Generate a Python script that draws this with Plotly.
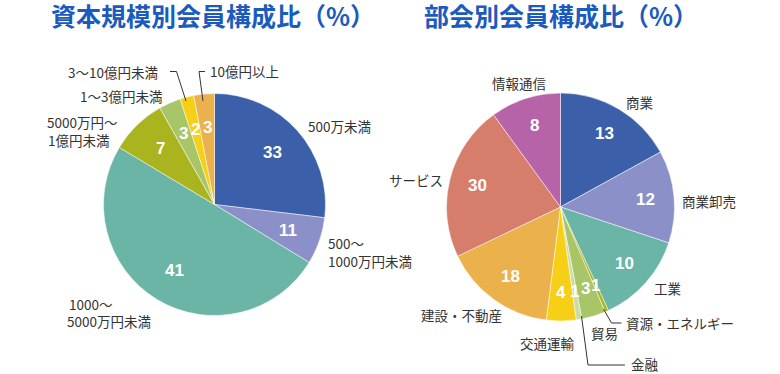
import math
import plotly.graph_objects as go

W, H = 780, 374

# ---- data: capital-size pie (slice shares as drawn, printed percentages) ----
cap_categories = ["500万未満", "500～1000万円未満", "1000～5000万円未満",
                  "5000万円～1億円未満", "1～3億円未満", "3～10億円未満", "10億円以上"]
cap_shares = [26.9, 6.85, 49.85, 8.2, 3.2, 2.0, 3.0]
cap_printed = ["33", "11", "41", "7", "3", "2", "3"]
cap_colors = ["#3b5fa9", "#8b91c8", "#6ab5a6", "#a9b41e", "#a8c568", "#f6cf17", "#ebb14e"]

# ---- data: section pie ----
sec_categories = ["商業", "商業卸売", "工業", "資源・エネルギー", "貿易", "金融",
                  "交通運輸", "建設・不動産", "サービス", "情報通信"]
sec_shares = [17.0, 13.1, 13.0, 0.5, 3.4, 0.8, 4.2, 15.9, 22.1, 10.0]
sec_printed = ["13", "12", "10", "1", "3", "1", "4", "18", "30", "8"]
sec_colors = ["#3b5fa9", "#8b91c8", "#6ab5a6", "#aab51a", "#a8c568", "#cbdca8",
              "#f6cf17", "#ebb24c", "#d77d6b", "#b763a7"]

titles = ["資本規模別会員構成比（%）", "部会別会員構成比（%）"]


def px(x):
    return x / W


def py(y):
    return 1 - y / H


def pie(values, names, colors, cx, cy, r):
    return go.Pie(
        values=values, labels=names,
        marker=dict(colors=colors, line=dict(color="rgba(255,255,255,0.7)", width=0.7)),
        sort=False, direction="clockwise", rotation=0, textinfo="none",
        domain=dict(x=[px(cx - r), px(cx + r)], y=[py(cy + r), py(cy - r)]),
        showlegend=False, hoverinfo="label+value",
    )


ann = []
num_font = dict(family="Arial, Liberation Sans", size=17, color="white", weight="bold")


def value_labels(values, printed, cx, cy, r, k=0.72):
    total = sum(values)
    cum = 0.0
    for v, t in zip(values, printed):
        mid = (cum + v / 2) / total * 2 * math.pi
        cum += v
        x = cx + k * r * math.sin(mid)
        y = cy - k * r * math.cos(mid)
        ann.append(dict(text=t, x=px(x), y=py(y), xref="paper", yref="paper",
                        xanchor="center", yanchor="middle", showarrow=False, font=num_font))


CAP = (214.5, 204.5, 111)
SEC = (560.5, 207, 114)

fig = go.Figure()
fig.add_trace(pie(cap_shares, cap_categories, cap_colors, *CAP))
fig.add_trace(pie(sec_shares, sec_categories, sec_colors, *SEC))
value_labels(cap_shares, cap_printed, *CAP, k=0.7)
value_labels(sec_shares, sec_printed, *SEC, k=0.75)

lab_font = dict(family="Noto Sans CJK JP", size=13.5, color="#333333")


def label(text, x, y, anchor="left"):
    ann.append(dict(text=text, x=px(x), y=py(y), xref="paper", yref="paper",
                    xanchor=anchor, yanchor="middle", showarrow=False, font=lab_font,
                    align="left", borderpad=0))


# left pie labels
label("500万未満", 307, 125.5)
label("500～", 327, 243)
label("1000万円未満", 327, 261)
label("1000～", 68, 303.5)
label("5000万円未満", 66, 321)
label("5000万円～", 46, 122.5)
label("1億円未満", 47, 140)
label("1～3億円未満", 79, 96)
label("3～10億円未満", 67, 72)
label("10億円以上", 209, 71)
# right pie labels
label("情報通信", 491, 83)
label("サービス", 388, 180)
label("建設・不動産", 420, 314.5)
label("商業", 625, 102)
label("商業卸売", 681, 201)
label("工業", 653, 288)
label("資源・エネルギー", 625, 323)
label("貿易", 590, 332.5)
label("金融", 630, 363.5)
label("交通運輸", 519, 343)

title_font = dict(family="Noto Sans CJK JP", size=25, color="#1a5bbd", weight="bold")
for t, cx in zip(titles, (213, 561)):
    ann.append(dict(text=t, x=px(cx), y=py(15), xref="paper", yref="paper",
                    xanchor="center", yanchor="middle", showarrow=False, font=title_font,
                    borderpad=0))


def leader(points):
    d = "M " + " L ".join(f"{px(x):.5f},{py(y):.5f}" for x, y in points)
    return dict(type="path", path=d, xref="paper", yref="paper",
                line=dict(color="#333333", width=1))


shapes = [
    leader([(170, 71.5), (176.5, 71.5), (186, 101)]),
    leader([(205, 71.5), (199, 71.5), (203, 101)]),
    leader([(603.5, 309), (611.5, 323), (621.5, 323)]),
    leader([(581.5, 316), (588, 365), (625, 365)]),
]

fig.update_layout(
    width=W, height=H, margin=dict(l=0, r=0, t=0, b=0),
    paper_bgcolor="white", plot_bgcolor="white",
    annotations=ann, shapes=shapes,
)

fig.write_html("out.html", config={"displayModeBar": False},
               post_script="document.body.style.margin='0px';")
